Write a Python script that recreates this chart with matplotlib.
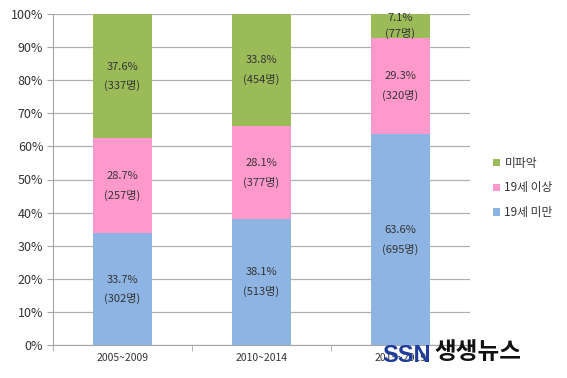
import matplotlib
matplotlib.use("Agg")
import matplotlib.pyplot as plt
import numpy as np

plt.rcParams['font.family'] = ['Noto Sans CJK KR', 'DejaVu Sans']

categories = ["2005~2009", "2010~2014", "2015~2019"]
under19_pct = [33.7, 38.1, 63.6]
under19_n = [302, 513, 695]
over19_pct = [28.7, 28.1, 29.3]
over19_n = [257, 377, 320]
unknown_pct = [37.6, 33.8, 7.1]
unknown_n = [337, 454, 77]
yticks = [0, 10, 20, 30, 40, 50, 60, 70, 80, 90, 100]

c_blue = "#8DB4E2"
c_pink = "#FF99CC"
c_green = "#9BBB59"

fig = plt.figure(figsize=(5.67, 3.78), dpi=100)
ax = fig.add_axes([53/567, 1-345/378, (470-53)/567, (345-14)/378])

x = np.arange(len(categories))
w = 0.42
series = [
    (under19_pct, under19_n, c_blue, "19세 미만"),
    (over19_pct, over19_n, c_pink, "19세 이상"),
    (unknown_pct, unknown_n, c_green, "미파악"),
]
bottom = np.zeros(len(categories))
handles = []
for pct, n, col, lab in series:
    pct = np.array(pct)
    b = ax.bar(x, pct, w, bottom=bottom, color=col, label=lab, zorder=3)
    handles.append(b)
    for i in range(len(categories)):
        yc = bottom[i] + pct[i] / 2
        d = 2.4 if pct[i] < 10 else 2.9
        ax.text(x[i], yc + d, f"{pct[i]:.1f}%", ha="center", va="center", fontsize=8, color="#333333", zorder=4)
        ax.text(x[i], yc - d, f"({n[i]}명)", ha="center", va="center", fontsize=8, color="#333333", zorder=4)
    bottom += pct

ax.set_xlim(-0.5, len(categories) - 0.5)
ax.set_ylim(0, 100)
ax.set_yticks(yticks)
ax.set_yticklabels([f"{v}%" for v in yticks], fontsize=9, color="#333333")
ax.yaxis.grid(True, color="#B0B0B0", linewidth=0.9, zorder=0)
ax.set_xticks(x)
ax.set_xticklabels(categories, fontsize=7.5, color="#333333")
ax.tick_params(axis="x", length=0, pad=6)
ax.set_xticks(np.arange(-0.5, len(categories)), minor=True)
ax.tick_params(axis="x", which="minor", length=4, color="#A6A6A6")
ax.tick_params(axis="y", length=4, color="#A6A6A6", pad=3)
for s in ["top", "right"]:
    ax.spines[s].set_visible(False)
for s in ["left", "bottom"]:
    ax.spines[s].set_color("#A6A6A6")

leg = fig.legend(handles=[handles[2], handles[1], handles[0]],
                 labels=["미파악", "19세 이상", "19세 미만"],
                 loc="center left", bbox_to_anchor=(482/567, 1-188/378),
                 frameon=False, fontsize=8.5, handlelength=0.6, handleheight=0.6,
                 handletextpad=0.4, labelspacing=1.0)
for t in leg.get_texts():
    t.set_color("#333333")

# logo overlay
fig.text(382/567, 1-356/378, "SSN", fontsize=17, fontweight="bold", color="#1F3C9C",
         family=["Liberation Sans", "DejaVu Sans"], ha="left", va="center")
fig.text(434/567, 1-352/378, "생생뉴스", fontsize=17, fontweight="bold", color="#111111",
         ha="left", va="center")

fig.savefig("out.png", dpi=100)
